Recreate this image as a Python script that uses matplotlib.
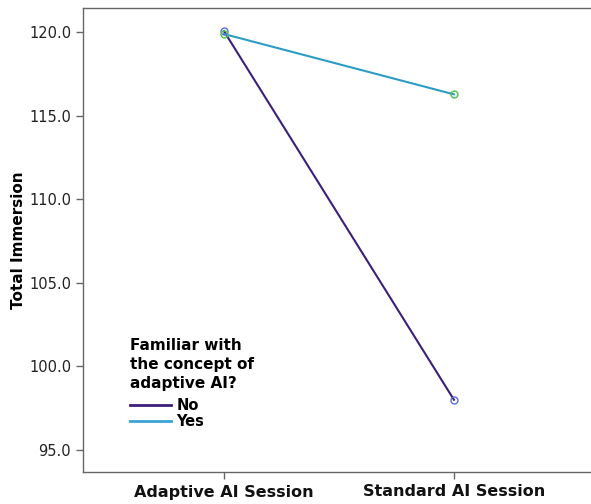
import matplotlib
matplotlib.use("Agg")
import matplotlib.pyplot as plt
from matplotlib.lines import Line2D

sessions = ["Adaptive AI Session", "Standard AI Session"]
groups = ["No", "Yes"]
no_values = [120.05, 98.0]
yes_values = [119.88, 116.27]
yticks = [95.0, 100.0, 105.0, 110.0, 115.0, 120.0]

line_colors = {"No": "#3b1f7a", "Yes": "#2b9dc4"}
marker_colors = {"No": "#5b6ee0", "Yes": "#4cc24c"}
legend_colors = {"No": "#3b1f7a", "Yes": "#3aa3d8"}

fig = plt.figure(figsize=(5.91, 5.04), dpi=100)
ax = fig.add_axes([83/591, 1 - 472/504, 1 - 83/591, (472 - 8)/504])

x = list(range(len(sessions)))
for g, vals in zip(groups, [no_values, yes_values]):
    ax.plot(x, vals, color=line_colors[g], lw=1.5, zorder=2)
    ax.plot(x, vals, linestyle="none", marker="o", markersize=5,
            markerfacecolor="none", markeredgecolor=marker_colors[g],
            markeredgewidth=1.0, zorder=3)

ax.set_xlim(-0.613, 1.596)
ax.set_ylim(93.68, 121.435)
ax.set_xticks(x)
ax.set_xticklabels(sessions, fontsize=11.5, fontweight="bold", color="#111111")
ax.set_yticks(yticks)
ax.set_yticklabels([f"{v:.1f}" for v in yticks], fontsize=10.5, color="#222222")
ax.set_ylabel("Total Immersion", fontsize=11, fontweight="bold")
ax.yaxis.set_label_coords(-0.112, 0.5)

for side in ["left", "top", "bottom"]:
    ax.spines[side].set_color("#666666")
    ax.spines[side].set_linewidth(1.0)
ax.spines["right"].set_visible(False)
ax.tick_params(axis="both", direction="out", length=5, width=1, color="#666666")
ax.tick_params(axis="x", pad=4)

handles = [Line2D([0], [0], color=legend_colors[g], lw=2) for g in groups]
leg = ax.legend(handles, groups, title="Familiar with\nthe concept of\nadaptive AI?",
                loc="upper left", bbox_to_anchor=((131 - 83 - 4)/508, 1 - (335 - 8)/464),
                frameon=False, prop={"weight": "bold", "size": 10.5},
                title_fontproperties={"weight": "bold", "size": 11},
                handlelength=2.8, handletextpad=0.4, labelspacing=0.08,
                borderaxespad=0, borderpad=0.2)
leg.get_title().set_linespacing(1.35)
leg._legend_box.align = "left"
leg._legend_box.sep = 5

fig.savefig("out.png", dpi=100)
